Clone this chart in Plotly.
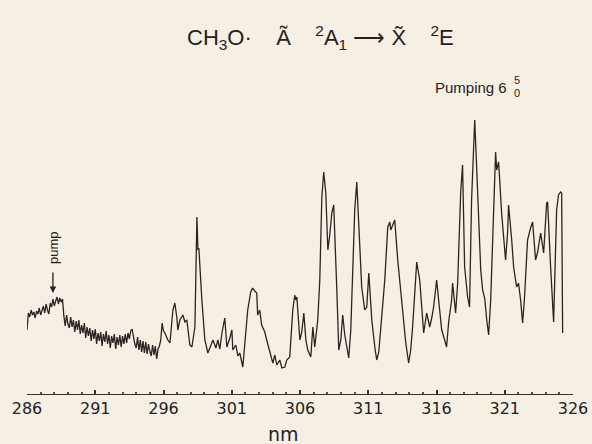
import plotly.graph_objects as go

# wavelength (nm) and relative emission intensity
wavelength_nm = [
    286.0, 286.1, 286.2, 286.3, 286.4, 286.5, 286.6, 286.7, 286.8, 286.9,
    287.0, 287.1, 287.2, 287.3, 287.4, 287.5, 287.6, 287.7, 287.8, 287.9,
    288.0, 288.1, 288.2, 288.3, 288.4, 288.5, 288.6, 288.7, 288.8, 288.9,
    289.0, 289.1, 289.2, 289.3, 289.4, 289.5, 289.6, 289.7, 289.8, 289.9,
    290.0, 290.1, 290.2, 290.3, 290.4, 290.5, 290.6, 290.7, 290.8, 290.9,
    291.0, 291.1, 291.2, 291.3, 291.4, 291.5, 291.6, 291.7, 291.8, 291.9,
    292.0, 292.1, 292.2, 292.3, 292.4, 292.5, 292.6, 292.7, 292.8, 292.9,
    293.0, 293.1, 293.2, 293.3, 293.4, 293.5, 293.6, 293.7, 293.8, 293.9,
    294.0, 294.1, 294.2, 294.3, 294.4, 294.5, 294.6, 294.7, 294.8, 294.9,
    295.0, 295.1, 295.2, 295.3, 295.4, 295.5, 295.6, 295.7, 295.8, 295.9,
    296.0, 296.10,
    296.32, 296.47, 296.69, 296.83, 296.98, 297.05,
    297.20, 297.42, 297.57, 297.71, 297.93, 298.08, 298.30, 298.45, 298.52, 298.59,
    298.81, 299.03, 299.25, 299.62, 299.84, 299.98, 300.13, 300.28, 300.49, 300.64,
    300.86, 301.01, 301.08, 301.30, 301.45, 301.59, 301.81, 301.96, 302.17, 302.39,
    302.53, 302.68, 302.83, 302.90, 303.05, 303.19, 303.42, 303.56, 303.79, 304.01,
    304.16, 304.30, 304.52, 304.67, 304.89, 305.03, 305.25, 305.47, 305.62, 305.69,
    305.77, 305.99, 306.13, 306.28, 306.43, 306.57, 306.79, 306.94, 307.08, 307.30,
    307.45, 307.60, 307.74, 307.89, 308.04, 308.18, 308.33, 308.47, 308.69, 308.84,
    308.99, 309.13, 309.28, 309.43, 309.57, 309.72, 309.87, 310.01, 310.16, 310.30,
    310.52, 310.74, 310.89, 311.04, 311.18, 311.26, 311.48, 311.62, 311.77, 311.99,
    312.21, 312.43, 312.58, 312.65, 312.79, 312.94, 313.16, 313.45, 313.60, 313.75,
    313.96, 314.11, 314.25, 314.40, 314.55, 314.77, 314.91, 315.06, 315.28, 315.50,
    315.65, 315.79, 316.01, 316.16, 316.23, 316.38, 316.45, 316.60, 316.74, 316.89,
    317.11, 317.18, 317.40, 317.55, 317.77, 317.91, 318.06, 318.28, 318.42, 318.57,
    318.80, 318.94, 319.24, 319.38, 319.53, 319.68, 319.82, 319.97, 320.12, 320.33,
    320.41, 320.55, 320.77, 320.92, 321.06, 321.21, 321.28, 321.51, 321.65, 321.87,
    322.01, 322.16, 322.31, 322.45, 322.67, 322.89, 323.04, 323.26, 323.41, 323.63,
    323.85, 324.07, 324.14, 324.36, 324.58, 324.80, 324.94, 325.09, 325.17, 325.24,
]
intensity = [
    64, 81, 77, 84, 79, 82, 76, 83, 80, 86,
    79, 84, 88, 81, 90, 84, 80, 91, 87, 95,
    88, 93, 97, 90, 96, 92, 95, 78, 68, 79,
    70, 66, 77, 67, 74, 62, 73, 64, 74, 60,
    69, 61, 71, 56, 67, 58, 66, 53, 64, 55,
    65, 50, 61, 53, 62, 48, 60, 52, 63, 50,
    59, 46, 58, 51, 60, 45, 57, 49, 59, 47,
    58, 50, 60, 51, 61, 55, 63, 65, 56, 50,
    46, 57, 44, 54, 42, 53, 41, 52, 40, 50,
    43, 38, 49, 39, 48, 35, 45, 48, 54, 71,
    63, 61,
    54, 51, 84, 91, 76, 64,
    74, 79, 72, 74, 49, 47, 67, 177, 144, 146,
    94, 54, 41, 54, 46, 54, 45, 61, 76, 47,
    56, 64, 44, 49, 38, 41, 27, 49, 84, 102,
    106, 103, 101, 79, 84, 69, 62, 54, 41, 31,
    39, 29, 34, 26, 27, 34, 37, 84, 99, 94,
    97, 54, 62, 81, 54, 44, 37, 67, 47, 74,
    114, 197, 222, 201, 144, 159, 181, 189, 107, 44,
    54, 79, 59, 47, 36, 64, 134, 184, 212, 167,
    107, 84, 87, 121, 84, 74, 47, 34, 42, 74,
    114, 167, 172, 164, 169, 174, 134, 94, 72, 51,
    31, 44, 67, 104, 132, 114, 84, 61, 81, 67,
    76, 87, 114, 91, 81, 64, 61, 54, 47, 72,
    94, 111, 81, 111, 201, 229, 127, 97, 87, 194,
    274, 227, 124, 104, 96, 74, 59, 94, 161, 242,
    224, 232, 181, 154, 134, 162, 189, 154, 127, 107,
    111, 94, 71, 97, 154, 166, 172, 134, 142, 161,
    141, 191, 192, 127, 72, 184, 199, 202, 201, 61,
]

tick_values = [286, 291, 296, 301, 306, 311, 316, 321, 326]
tick_labels = ["286", "291", "296", "301", "306", "311", "316", "321", "326"]

paper_bg = "#f6f0e4"
ink = "#2a2522"

fig = go.Figure()
fig.add_trace(go.Scatter(
    x=wavelength_nm, y=intensity, mode="lines",
    line=dict(color=ink, width=1.3), hoverinfo="skip", showlegend=False,
))

fig.update_layout(
    width=592, height=444, autosize=False,
    margin=dict(l=27, r=19, t=100, b=50),
    paper_bgcolor=paper_bg, plot_bgcolor=paper_bg,
    font=dict(family="DejaVu Sans", color="#222"),
    xaxis=dict(
        range=[286, 326], showgrid=False, zeroline=False, automargin=False,
        showline=True, linecolor="#333", linewidth=1.2,
        tickmode="array", tickvals=tick_values, ticktext=tick_labels,
        ticks="inside", ticklen=4, tickwidth=1.5, tickcolor="#333",
        tickfont=dict(family="DejaVu Sans", size=16, color="#222"),
        minor=dict(dtick=1, tick0=286, ticks="inside", ticklen=2, tickcolor="#555"),
    ),
    yaxis=dict(range=[0, 294], visible=False, automargin=False),
)

def label(text, x, y, size, family="Liberation Sans", **kw):
    fig.add_annotation(
        xref="paper", yref="paper", x=x, y=y, showarrow=False,
        xanchor="center", yanchor="middle", text=text,
        font=dict(family=family, size=size, color="#222"), **kw,
    )

# title
label("CH<sub>3</sub>O·    Ã    <sup>2</sup>A<sub>1</sub> ⟶ X\u0303    <sup>2</sup>E",
      0.537, 1.214, 22)
# pumping label
label("Pumping 6", 0.813, 1.044, 15)
label("5", 0.897, 1.068, 11)
label("0", 0.897, 1.023, 11)
# axis title
label("nm", 0.469, -0.136, 19, family="DejaVu Sans")

# pump marker
fig.add_annotation(
    xref="x", yref="y", x=287.90, y=147, showarrow=False, textangle=-90,
    xanchor="center", yanchor="middle",
    text="pump", font=dict(family="Liberation Sans", size=13, color="#222"),
)
fig.add_annotation(
    xref="x", yref="y", x=287.90, y=101, ax=287.90, ay=123,
    axref="x", ayref="y", text="", showarrow=True,
    arrowhead=2, arrowsize=1, arrowwidth=1.3, arrowcolor="#222",
)

fig.write_html(
    "out.html",
    config={"displayModeBar": False},
    post_script="document.body.style.margin='0';document.body.style.background='%s';" % paper_bg,
)
